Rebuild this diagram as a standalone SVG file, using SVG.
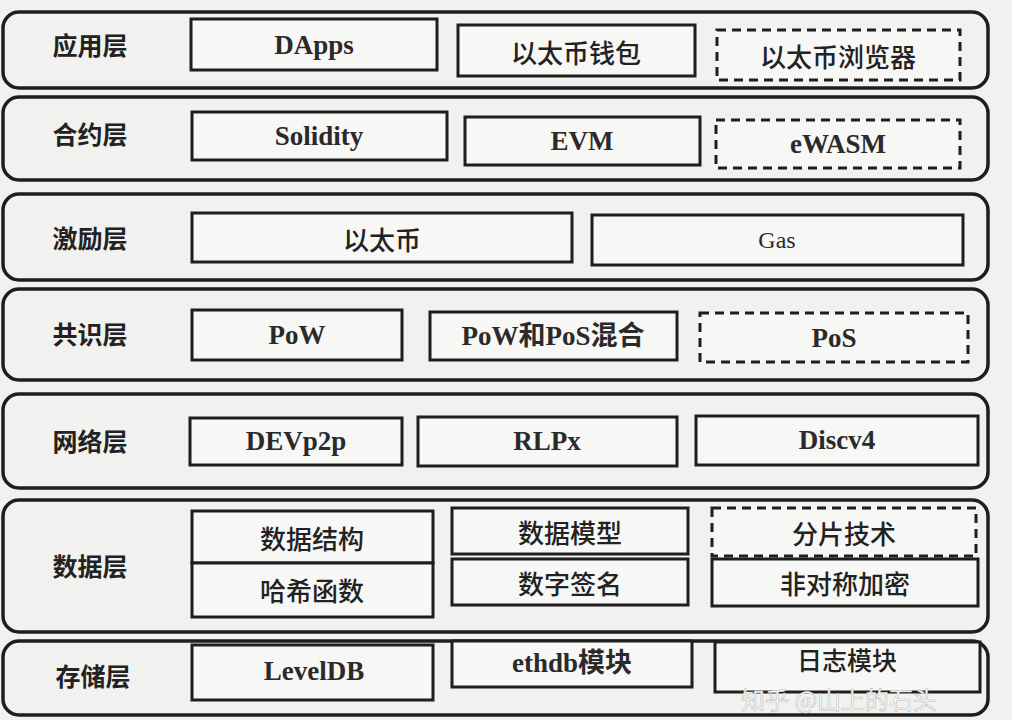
<svg xmlns="http://www.w3.org/2000/svg" width="1012" height="720" viewBox="0 0 1012 720">
<style>
.layer{fill:none;stroke:#1e1e1e;stroke-width:3.5}
.box{fill:#f7f7f5;stroke:#1e1e1e;stroke-width:3}
.dash{fill:#f7f7f5;stroke:#1e1e1e;stroke-width:3;stroke-dasharray:9 6}
.lbl{font-family:"Noto Sans CJK SC",sans-serif;font-weight:700;font-size:25px;fill:#222;text-anchor:middle;dominant-baseline:central}
.t{font-family:"Liberation Serif","Noto Sans CJK SC",serif;font-weight:700;font-size:27px;fill:#2a2a2a;text-anchor:middle;dominant-baseline:central}
.c{font-family:"Noto Sans CJK SC",sans-serif;font-weight:500;font-size:26px;fill:#222;text-anchor:middle;dominant-baseline:central}
.wm{font-family:"Noto Sans CJK SC",sans-serif;font-size:24px;fill:#ffffff;stroke:#bbb;stroke-width:0.6;text-anchor:start;dominant-baseline:central}
</style>
<rect width="1012" height="720" fill="#f1f1ef"/>
<g id="layer-app">
<rect class="layer" x="3" y="12" width="985" height="76" rx="16"/>
<text class="lbl" x="90" y="44">应用层</text>
<g id="n-dapps"><rect class="box" x="191" y="19" width="246" height="51"/><text class="t" x="314" y="45">DApps</text></g>
<g id="n-wallet"><rect class="box" x="458" y="25" width="237" height="51"/><text class="c" x="576" y="51">以太币钱包</text></g>
<g id="n-browser"><rect class="dash" x="717" y="30" width="243" height="50"/><text class="c" x="838" y="55">以太币浏览器</text></g>
</g>
<g id="layer-contract">
<rect class="layer" x="3" y="97" width="985" height="83" rx="16"/>
<text class="lbl" x="90" y="133">合约层</text>
<g id="n-solidity"><rect class="box" x="192" y="112" width="255" height="48"/><text class="t" x="319" y="136">Solidity</text></g>
<g id="n-evm"><rect class="box" x="465" y="117" width="235" height="48"/><text class="t" x="582" y="141">EVM</text></g>
<g id="n-ewasm"><rect class="dash" x="716" y="120" width="244" height="48"/><text class="t" x="838" y="144">eWASM</text></g>
</g>
<g id="layer-incentive">
<rect class="layer" x="3" y="194" width="985" height="86" rx="16"/>
<text class="lbl" x="90" y="237">激励层</text>
<g id="n-ether"><rect class="box" x="192" y="213" width="380" height="49"/><text class="c" x="382" y="238">以太币</text></g>
<g id="n-gas"><rect class="box" x="592" y="215" width="371" height="50"/><text class="t" x="777" y="240" style="font-size:24px;font-weight:400">Gas</text></g>
</g>
<g id="layer-consensus">
<rect class="layer" x="3" y="289" width="985" height="91" rx="16"/>
<text class="lbl" x="90" y="333">共识层</text>
<g id="n-pow"><rect class="box" x="192" y="310" width="210" height="50"/><text class="t" x="297" y="335">PoW</text></g>
<g id="n-mix"><rect class="box" x="430" y="312" width="247" height="48"/><text class="t" x="553" y="336">PoW和PoS混合</text></g>
<g id="n-pos"><rect class="dash" x="700" y="313" width="268" height="49"/><text class="t" x="834" y="338">PoS</text></g>
</g>
<g id="layer-network">
<rect class="layer" x="3" y="394" width="985" height="94" rx="16"/>
<text class="lbl" x="90" y="440">网络层</text>
<g id="n-devp2p"><rect class="box" x="190" y="418" width="212" height="47"/><text class="t" x="296" y="441">DEVp2p</text></g>
<g id="n-rlpx"><rect class="box" x="418" y="417" width="259" height="49"/><text class="t" x="547" y="441">RLPx</text></g>
<g id="n-discv4"><rect class="box" x="696" y="416" width="282" height="49"/><text class="t" x="837" y="440">Discv4</text></g>
</g>
<g id="layer-data">
<rect class="layer" x="3" y="500" width="985" height="132" rx="16"/>
<text class="lbl" x="90" y="565">数据层</text>
<g id="n-struct"><rect class="box" x="192" y="511" width="241" height="52"/><text class="c" x="312" y="537">数据结构</text></g>
<g id="n-hash"><rect class="box" x="192" y="563" width="241" height="54"/><text class="c" x="312" y="589">哈希函数</text></g>
<g id="n-model"><rect class="box" x="452" y="508" width="236" height="46"/><text class="c" x="570" y="531">数据模型</text></g>
<g id="n-sign"><rect class="box" x="452" y="559" width="236" height="46"/><text class="c" x="570" y="582">数字签名</text></g>
<g id="n-shard"><rect class="dash" x="712" y="508" width="264" height="48"/><text class="c" x="844" y="532">分片技术</text></g>
<g id="n-asym"><rect class="box" x="712" y="559" width="266" height="47"/><text class="c" x="845" y="582">非对称加密</text></g>
</g>
<g id="layer-storage">
<rect class="layer" x="3" y="641" width="985" height="74" rx="16"/>
<text class="lbl" x="93" y="675">存储层</text>
<g id="n-leveldb"><rect class="box" x="192" y="645" width="241" height="55"/><text class="t" x="314" y="671">LevelDB</text></g>
<g id="n-ethdb"><rect class="box" x="452" y="641" width="240" height="46"/><text class="t" x="572" y="663">ethdb模块</text></g>
<g id="n-log"><rect class="box" x="715" y="642" width="265" height="50"/><text class="c" x="847" y="659" style="font-size:25px">日志模块</text></g>
</g>
<g id="connectors"></g>
<text class="wm" x="741" y="698">知乎 @山上的石头</text>
</svg>
